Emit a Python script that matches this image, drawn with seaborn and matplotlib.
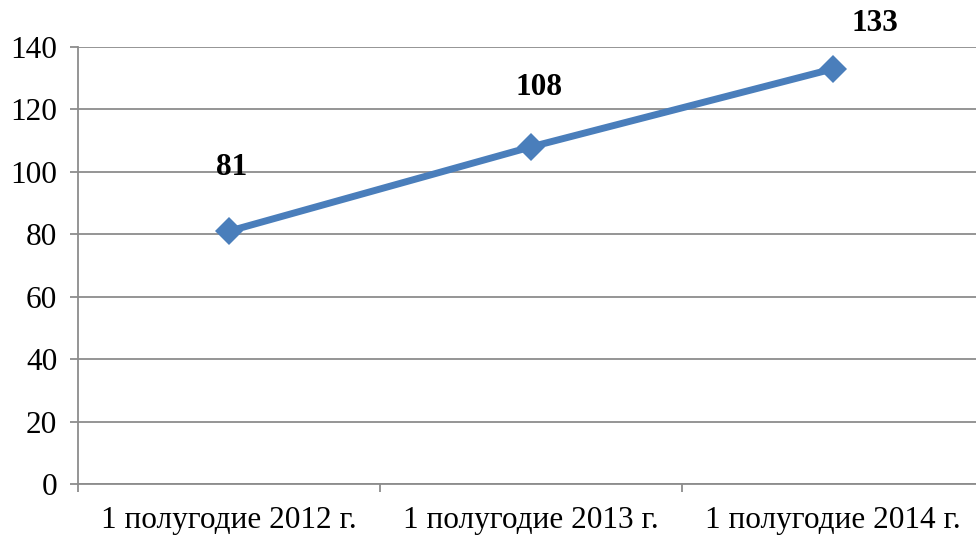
import pandas as pd
import matplotlib.pyplot as plt
import seaborn as sns

# Data
periods = ["1 полугодие 2012 г.", "1 полугодие 2013 г.", "1 полугодие 2014 г."]
values = [81, 108, 133]

# label offsets from each marker, in points (x, y)
label_dx = [2, 6, 30]
label_dy = [46, 43, 33]

df = pd.DataFrame({"period": periods, "value": values})
df["pos"] = range(len(df))

sns.set_style("white")
plt.rcParams["font.family"] = ["Liberation Serif", "DejaVu Serif"]
plt.rcParams["text.color"] = "black"
plt.rcParams["xtick.color"] = "black"
plt.rcParams["ytick.color"] = "black"

fig = plt.figure(figsize=(9.76, 5.36), dpi=100)
ax = fig.add_axes([78 / 976, 52 / 536, 906 / 976, 437 / 536])

grid_color = "#8c8c8c"

sns.lineplot(
    data=df,
    x="pos",
    y="value",
    ax=ax,
    color="#4A7EBB",
    linewidth=5,
    marker="D",
    markersize=14,
    markeredgewidth=0,
)

for x, y, dx, dy in zip(df["pos"], df["value"], label_dx, label_dy):
    ax.annotate(
        str(y), (x, y), xytext=(dx, dy), textcoords="offset points",
        ha="center", va="center", fontsize=22.5, fontweight="bold",
        color="black", annotation_clip=False,
    )

ax.set_xlim(-0.5, 2.5)
ax.set_ylim(0, 140)
ax.set_yticks(range(0, 141, 20))
ax.set_xticks([0, 1, 2])
ax.set_xticklabels(periods)
ax.set_xticks([-0.5, 0.5, 1.5, 2.5], minor=True)

ax.yaxis.grid(True, color=grid_color, linewidth=1.3)
ax.set_axisbelow(True)
for side in ["top", "right"]:
    ax.spines[side].set_visible(False)
for side in ["left", "bottom"]:
    ax.spines[side].set_color(grid_color)
    ax.spines[side].set_linewidth(1.3)

ax.tick_params(axis="y", which="major", left=True, length=6, width=1.3,
               color=grid_color, labelcolor="black", labelsize=22.5, pad=9)
ax.tick_params(axis="x", which="major", bottom=False, labelcolor="black",
               labelsize=22.5, pad=12)
ax.tick_params(axis="x", which="minor", bottom=True, length=6, width=1.3,
               color=grid_color)
ax.set_xlabel("")
ax.set_ylabel("")

fig.savefig("out.png", dpi=100)
